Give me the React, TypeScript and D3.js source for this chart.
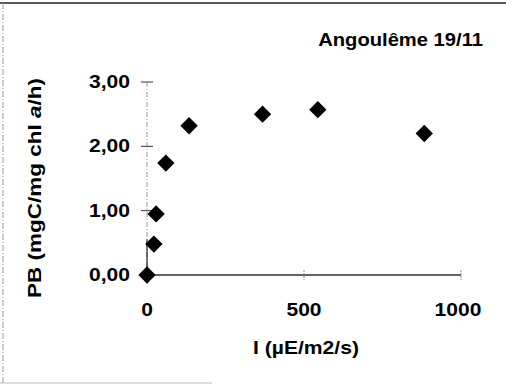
import React, { useLayoutEffect, useRef, useState } from "react";
import * as d3 from "d3";

const irradiance = [0, 22, 29, 60, 134, 368, 544, 883];
const pb = [0, 0.48, 0.95, 1.74, 2.32, 2.5, 2.57, 2.2];
const xTicks = [0, 500, 1000];
const yTicks = [0, 1, 2, 3];
const title = "Angoulême 19/11";
const xTitle = "I (µE/m2/s)";

const W = 506;
const H = 385;
const FONT = "'Liberation Sans', Arial, Helvetica, sans-serif";

const frLocale = d3.formatLocale({ decimal: ",", thousands: " ", grouping: [3], currency: ["", "€"] });
const fmtY = frLocale.format(".2f");

type FitProps = {
  x: number;
  y: number;
  width: number;
  size: number;
  anchor?: "start" | "middle" | "end";
  rotate?: number;
  children: React.ReactNode;
};

function FitText({ x, y, width, size, anchor = "middle", rotate = 0, children }: FitProps) {
  const ref = useRef<SVGTextElement>(null);
  const [sx, setSx] = useState(1);
  useLayoutEffect(() => {
    if (ref.current) {
      const len = ref.current.getComputedTextLength();
      if (len > 0) setSx(width / len);
    }
  }, [width, size]);
  return (
    <text
      ref={ref}
      transform={`translate(${x},${y}) rotate(${rotate}) scale(${sx},1)`}
      textAnchor={anchor}
      fontFamily={FONT}
      fontWeight="bold"
      fontSize={size}
      fill="#000"
    >
      {children}
    </text>
  );
}

export default function App() {
  const x = d3.scaleLinear().domain([0, 1000]).range([147, 461]);
  const y = d3.scaleLinear().domain([0, 3]).range([275, 82]);
  const diamond = d3.symbol().type(d3.symbolSquare).size(150)();
  const pts = irradiance.map((v, i) => ({ x: v, y: pb[i] }));

  return (
    <svg width={W} height={H} style={{ position: "absolute", left: 0, top: 0, background: "#fff" }}>
      {/* frame */}
      <line x1={0} x2={W} y1={3} y2={3} stroke="#222" strokeWidth={1.5} />
      <line x1={3} x2={3} y1={3} y2={383} stroke="#999" strokeWidth={1} strokeDasharray="6 2 1 2" />
      <line x1={0} x2={212} y1={383} y2={383} stroke="#bbb" strokeWidth={1} />

      {/* title */}
      <FitText x={483} y={45.5} width={165} size={18} anchor="end">{title}</FitText>

      {/* y axis */}
      <line x1={x(0)} x2={x(0)} y1={y(3)} y2={y(0)} stroke="#999" strokeWidth={1} strokeDasharray="5 2 1 2" />
      <line x1={x(0)} x2={x(0)} y1={y(0.55)} y2={y(0)} stroke="#222" strokeWidth={1.2} />
      {yTicks.map((t) => (
        <g key={"yt" + t}>
          <line x1={x(0) - 6} x2={x(0) + 6} y1={y(t)} y2={y(t)} stroke="#333" strokeWidth={1} />
          <FitText x={130} y={y(t) + 6} width={41} size={17.5} anchor="end">{fmtY(t)}</FitText>
        </g>
      ))}

      {/* x axis */}
      <line x1={x(0)} x2={x(1000)} y1={y(0)} y2={y(0)} stroke="#333" strokeWidth={1.3} />
      {xTicks.map((t) => {
        const label = String(t);
        return (
          <g key={"xt" + t}>
            {t > 0 && (
              <line x1={x(t)} x2={x(t)} y1={y(0) - 5} y2={y(0) + 5} stroke="#888" strokeWidth={1} strokeDasharray="2 1" />
            )}
            <FitText x={x(t) - (t === 1000 ? 3 : 0)} y={315.5} width={label.length * 11.7} size={18}>{label}</FitText>
          </g>
        );
      })}

      {/* axis titles */}
      <FitText x={306} y={354} width={106} size={18.5}>{xTitle}</FitText>
      <FitText x={41} y={188} width={220} size={18.5} rotate={-90}>
        PB (mgC/mg chl <tspan fontStyle="italic">a</tspan>/h)
      </FitText>

      {/* points */}
      {pts.map((p, i) => (
        <path key={"p" + i} d={diamond ?? ""} transform={`translate(${x(p.x)},${y(p.y)}) rotate(45)`} fill="#000" />
      ))}
    </svg>
  );
}
